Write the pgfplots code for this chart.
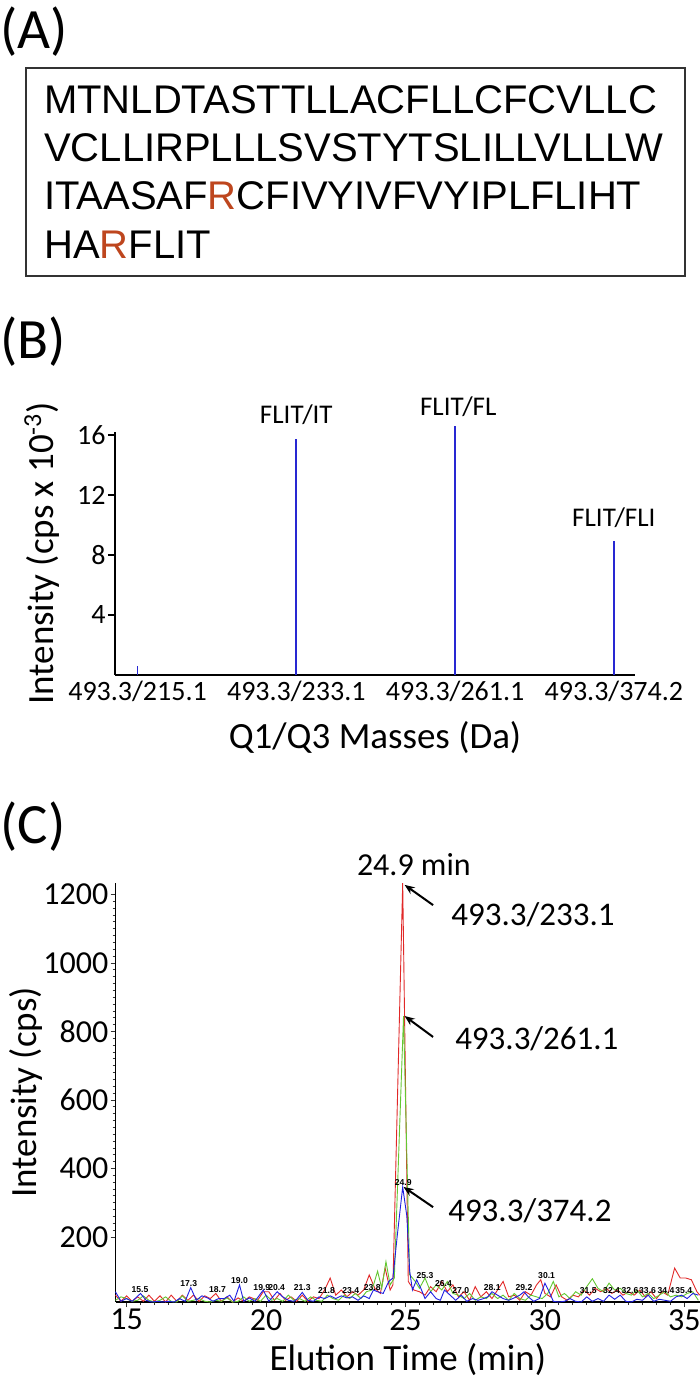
\documentclass[border=0pt]{standalone}
\usepackage{pgfplots}
\pgfplotsset{compat=1.18}
\usepackage{fontspec}
\setmainfont{Carlito}
\newfontfamily\arial{Liberation Sans}
\usetikzlibrary{arrows.meta}
\definecolor{rcol}{RGB}{190,70,30}
\definecolor{barblue}{RGB}{40,40,210}
\definecolor{tred}{RGB}{225,40,40}
\definecolor{tgreen}{RGB}{100,200,50}
\definecolor{tblue}{RGB}{30,30,225}
\begin{document}
\begin{tikzpicture}
\useasboundingbox (0,0) rectangle (350pt,689.5pt);
% ---------------- Panel A ----------------
\node[anchor=north west, inner sep=0pt, font=\fontsize{28.5}{28.5}\selectfont] at (0pt,686.5pt) {(A)};
\draw[line width=0.8pt, black!80] (13pt,551.5pt) rectangle (342.5pt,655.5pt);
\begin{scope}[every node/.style={anchor=base west, inner sep=0pt, font=\arial\fontsize{20}{24}\selectfont}]
\node at (21.9pt,632.85pt) {MTNLDTASTTLLACFLLCFCVLLC};
\node at (21.9pt,608.65pt) {VCLLIRPLLLSVSTYTSLILLVLLLW};
\node at (21.9pt,584.5pt) {ITAASAF\textcolor{rcol}{R}CFIVYIVFVYIPLFLIHT};
\node at (21.9pt,560.35pt) {HA\textcolor{rcol}{R}FLIT};
\end{scope}
% ---------------- Panel B ----------------
\node[anchor=north west, inner sep=0pt, font=\fontsize{28.5}{28.5}\selectfont] at (0pt,531.2pt) {(B)};
\begin{axis}[
  at={(57.5pt,352pt)}, anchor=south west, scale only axis,
  width=260pt, height=121.65pt,
  xmin=-0.142, xmax=3.133, ymin=0, ymax=16.22,
  axis x line*=bottom, axis y line*=left,
  axis line style={line width=0.6pt},
  clip=false,
  ytick={4,8,12,16},
  xtick={0,1,2,3},
  xticklabels={493.3/215.1,493.3/233.1,493.3/261.1,493.3/374.2},
  tick align=outside,
  major tick length=3.5pt,
  x tick style={draw=none},
  y tick style={line width=0.6pt, black},
  /pgf/number format/assume math mode=true,
  ticklabel style={font=\fontsize{14}{16}\selectfont},
  yticklabel style={inner sep=1pt},
  xticklabel style={inner sep=1pt, yshift=1.5pt},
  xlabel={Q1/Q3 Masses (Da)},
  ylabel={Intensity (cps x 10\textsuperscript{-3})},
  label style={font=\fontsize{18.5}{20}\selectfont},
  xlabel style={at={(axis description cs:0.5,-0.259)}, anchor=center},
  ylabel style={at={(axis description cs:-0.1404,0.5)}, anchor=center},
]
\addplot[ycomb, barblue, line width=0.9pt, mark=none] coordinates {(0,0.6) (1,15.7) (2,16.6) (3,8.9)};
\node[font=\fontsize{13.5}{15}\selectfont] at (axis cs:1,17.33) {FLIT/IT};
\node[font=\fontsize{13.5}{15}\selectfont] at (axis cs:2.02,17.87) {FLIT/FL};
\node[font=\fontsize{13.5}{15}\selectfont] at (axis cs:3.0,10.47) {FLIT/FLI};
\end{axis}
% ---------------- Panel C ----------------
\node[anchor=north west, inner sep=0pt, font=\fontsize{28.5}{28.5}\selectfont] at (0pt,288.65pt) {(C)};
\begin{axis}[
  at={(57.85pt,38.5pt)}, anchor=south west, scale only axis,
  width=292.15pt, height=209.5pt,
  xmin=14.61, xmax=35.56, ymin=10, ymax=1233.6,
  axis x line*=bottom, axis y line*=left,
  axis line style={line width=0.6pt},
  clip=false,
  ytick={200,400,600,800,1000,1200},
  xtick={15,20,25,30,35},
  minor y tick num=9, minor x tick num=9,
  tick align=outside,
  major tick length=2.5pt, minor tick length=1.5pt,
  tick style={line width=0.4pt, black!80},
  /pgf/number format/assume math mode=true,
  /pgf/number format/set thousands separator={},
  ticklabel style={font=\fontsize{16}{18}\selectfont},
  yticklabel style={inner sep=1pt},
  xticklabel style={inner sep=1pt},
  xlabel={Elution Time (min)},
  ylabel={Intensity (cps)},
  label style={font=\fontsize{18.5}{20}\selectfont},
  xlabel style={at={(axis description cs:0.5,-0.138)}, anchor=center},
  ylabel style={at={(axis description cs:-0.1535,0.5)}, anchor=center},
]
\addplot[tred, line width=0.45pt, mark=none] coordinates {
(14.6,30) (14.8,12) (15.0,28) (15.2,12) (15.4,25) (15.6,12) (15.8,30) (16.0,12) (16.2,28) (16.4,10) (16.6,30) (16.8,12) (17.0,30) (17.2,15) (17.4,30) (17.6,12) (17.8,28) (18.0,20) (18.2,35) (18.4,12) (18.6,25) (18.8,10) (19.0,22) (19.2,12) (19.4,25) (19.7,15) (19.9,40) (20.1,40) (20.3,15) (20.5,35) (20.7,15) (20.9,25) (21.1,12) (21.3,30) (21.5,12) (21.7,25) (21.9,20) (22.1,45) (22.3,80) (22.5,30) (22.7,45) (22.9,25) (23.1,40) (23.3,30) (23.5,45) (23.7,89) (23.9,50) (24.1,35) (24.27,109) (24.45,45) (24.55,60) (24.9,1233) (25.1,70) (25.3,45) (25.5,40) (25.7,30) (25.9,55) (26.1,40) (26.3,70) (26.5,40) (26.7,60) (26.9,25) (27.1,40) (27.3,15) (27.5,55) (27.7,25) (27.9,40) (28.1,20) (28.3,45) (28.5,70) (28.7,25) (28.9,30) (29.1,15) (29.3,40) (29.5,30) (29.7,60) (29.85,75) (30.0,35) (30.2,25) (30.4,60) (30.6,25) (30.8,15) (31.0,30) (31.2,25) (31.4,45) (31.6,30) (31.8,50) (32.0,40) (32.2,50) (32.4,35) (32.6,45) (32.8,30) (33.0,40) (33.2,30) (33.4,45) (33.6,25) (33.8,40) (34.0,20) (34.2,40) (34.4,30) (34.65,109) (34.85,80) (35.05,80) (35.25,75) (35.45,40) (35.55,30)
};
\addplot[tgreen, line width=0.45pt, mark=none] coordinates {
(14.6,15) (14.8,25) (15.0,20) (15.2,12) (15.4,15) (15.6,28) (15.8,15) (16.0,10) (16.2,15) (16.4,25) (16.6,12) (16.8,10) (17.0,28) (17.2,12) (17.4,15) (17.6,20) (17.8,12) (18.0,10) (18.2,15) (18.4,12) (18.6,22) (18.8,10) (19.0,12) (19.2,25) (19.4,12) (19.6,20) (19.8,12) (20.0,30) (20.2,15) (20.4,20) (20.6,12) (20.8,30) (21.0,15) (21.2,20) (21.4,12) (21.6,25) (21.8,15) (22.0,12) (22.2,30) (22.4,20) (22.6,15) (22.8,30) (23.0,20) (23.2,35) (23.4,20) (23.6,40) (23.8,45) (24.0,100) (24.15,50) (24.3,128) (24.45,60) (24.6,80) (24.93,845) (25.15,90) (25.35,70) (25.5,50) (25.7,80) (25.9,40) (26.1,60) (26.3,45) (26.5,70) (26.7,35) (26.9,30) (27.1,20) (27.3,35) (27.5,15) (27.7,25) (27.9,20) (28.1,35) (28.3,20) (28.5,30) (28.7,15) (28.9,35) (29.1,20) (29.3,15) (29.5,30) (29.7,25) (29.9,20) (30.1,35) (30.3,70) (30.5,25) (30.7,35) (30.9,20) (31.1,40) (31.3,30) (31.5,55) (31.7,78) (31.9,50) (32.1,40) (32.3,65) (32.5,45) (32.7,50) (32.9,35) (33.1,30) (33.3,45) (33.5,25) (33.7,35) (33.9,20) (34.1,30) (34.3,40) (34.5,25) (34.7,30) (34.9,25) (35.1,35) (35.3,40) (35.5,15)
};
\addplot[tblue, line width=0.45pt, mark=none] coordinates {
(14.6,40) (14.8,12) (15.0,20) (15.2,12) (15.5,35) (15.7,15) (15.9,10) (16.1,12) (16.3,10) (16.5,12) (16.7,10) (16.9,20) (17.1,12) (17.3,52) (17.5,15) (17.7,28) (17.9,22) (18.1,12) (18.3,20) (18.5,20) (18.7,30) (18.85,12) (19.05,60) (19.2,12) (19.4,22) (19.6,12) (19.9,45) (20.1,12) (20.4,40) (20.6,25) (20.8,15) (21.0,12) (21.1,18) (21.3,38) (21.5,15) (21.7,12) (21.9,25) (22.1,20) (22.3,28) (22.5,20) (22.7,28) (22.9,22) (23.1,25) (23.3,15) (23.5,28) (23.7,20) (23.85,45) (24.0,40) (24.2,35) (24.4,70) (24.55,80) (24.7,200) (24.9,346) (25.05,260) (25.15,100) (25.25,45) (25.4,75) (25.55,50) (25.7,20) (25.9,40) (26.1,20) (26.25,15) (26.4,45) (26.6,30) (26.8,15) (27.0,30) (27.2,12) (27.4,20) (27.6,15) (27.8,20) (27.95,25) (28.1,40) (28.3,30) (28.5,20) (28.7,15) (28.9,22) (29.1,30) (29.25,40) (29.4,25) (29.6,12) (29.8,20) (30.0,65) (30.15,40) (30.3,12) (30.5,10) (30.7,12) (30.9,20) (31.1,12) (31.3,10) (31.5,25) (31.7,12) (31.9,20) (32.1,12) (32.3,30) (32.5,18) (32.7,30) (32.9,12) (33.1,10) (33.3,18) (33.5,15) (33.7,30) (33.9,12) (34.1,18) (34.3,15) (34.5,12) (34.7,25) (34.9,30) (35.1,20) (35.3,35) (35.5,30)
};
% small peak labels
\begin{scope}[every node/.style={font=\arial\bfseries\fontsize{4.3}{5}\selectfont, inner sep=0pt}]
\node at (axis cs:15.48,45) {15.5};
\node at (axis cs:17.23,65) {17.3};
\node at (axis cs:18.26,45) {18.7};
\node at (axis cs:19.05,74) {19.0};
\node at (axis cs:19.85,53) {19.9};
\node at (axis cs:20.38,53) {20.4};
\node at (axis cs:21.30,53) {21.3};
\node at (axis cs:22.17,43) {21.8};
\node at (axis cs:23.04,43) {23.4};
\node at (axis cs:23.81,53) {23.8};
\node at (axis cs:24.92,359) {24.9};
\node at (axis cs:25.70,86) {25.3};
\node at (axis cs:26.36,65) {26.4};
\node at (axis cs:26.98,43) {27.0};
\node at (axis cs:28.11,53) {28.1};
\node at (axis cs:29.25,53) {29.2};
\node at (axis cs:30.06,86) {30.1};
\node at (axis cs:31.55,43) {31.5};
\node at (axis cs:32.39,43) {32.4};
\node at (axis cs:33.05,43) {32.6};
\node at (axis cs:33.68,43) {33.6};
\node at (axis cs:34.34,43) {34.4};
\node at (axis cs:34.98,43) {35.4};
\end{scope}
% annotations
\node[font=\fontsize{16}{18}\selectfont] at (axis cs:25.30,1286) {24.9 min};
\node[anchor=west, inner sep=0pt, font=\fontsize{16.5}{18}\selectfont] at (axis cs:26.63,1140) {493.3/233.1};
\node[anchor=west, inner sep=0pt, font=\fontsize{16.5}{18}\selectfont] at (axis cs:26.77,778) {493.3/261.1};
\node[anchor=west, inner sep=0pt, font=\fontsize{16.5}{18}\selectfont] at (axis cs:26.52,276) {493.3/374.2};
\draw[-{Stealth[length=5pt,width=4pt]}, line width=1pt] (axis cs:25.99,1169) -- (axis cs:24.97,1228);
\draw[-{Stealth[length=5pt,width=4pt]}, line width=1pt] (axis cs:25.99,784) -- (axis cs:24.97,845);
\draw[-{Stealth[length=5pt,width=4pt]}, line width=1pt] (axis cs:25.99,287) -- (axis cs:24.93,346);
\end{axis}
\end{tikzpicture}
\end{document}
